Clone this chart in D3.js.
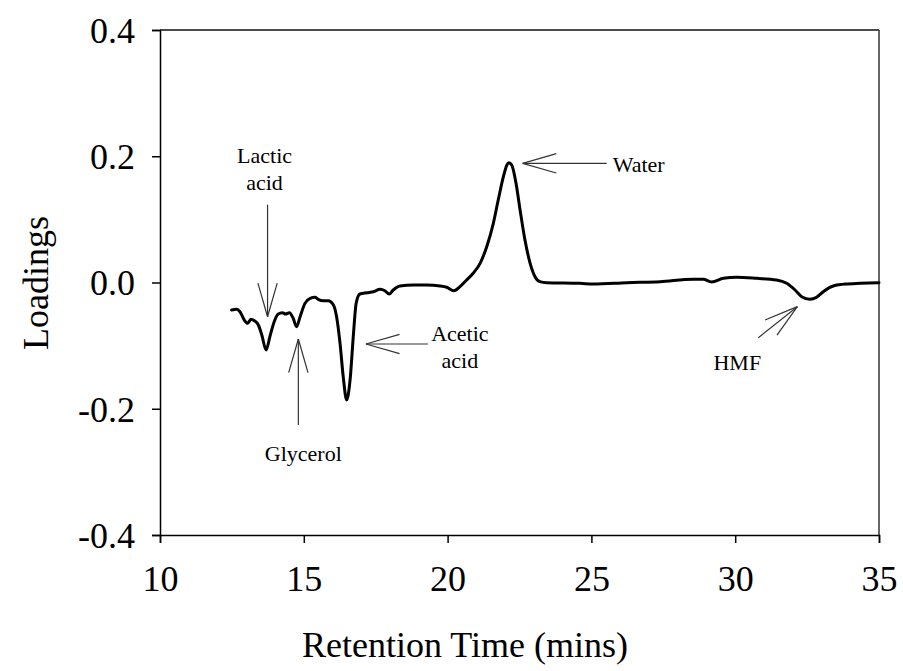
<!DOCTYPE html>
<html><head><meta charset="utf-8">
<script src="https://cdn.jsdelivr.net/npm/d3@7"></script>
<style>
body{margin:0;background:#fff}
svg{display:block}
text{font-family:"Liberation Serif","Times New Roman",serif;fill:#000}
</style>
</head><body><svg id="c" width="903" height="671"></svg>
<script>
// ---- data ----
const retention = [12.49,12.67,12.78,12.93,13.05,13.16,13.28,13.42,13.54,13.69,13.82,13.97,14.11,14.25,14.37,14.50,14.63,14.75,14.87,15.04,15.22,15.39,15.50,15.68,15.85,16.03,16.14,16.26,16.37,16.49,16.61,16.72,16.82,16.95,17.19,17.42,17.65,17.82,17.97,18.11,18.34,18.81,19.27,19.74,19.97,20.22,20.43,20.66,20.89,21.13,21.36,21.59,21.76,21.94,22.06,22.13,22.23,22.38,22.52,22.69,22.87,23.04,23.21,23.45,24.60,25.07,26.23,27.39,28.54,28.89,29.18,29.59,30.05,30.75,31.44,31.79,32.08,32.31,32.60,32.83,33.06,33.41,33.88,35.00];
const loadings = [-0.0436,-0.0425,-0.0463,-0.0594,-0.0646,-0.0583,-0.0605,-0.0673,-0.0832,-0.107,-0.0859,-0.0621,-0.0499,-0.0478,-0.0499,-0.0478,-0.0567,-0.070,-0.0542,-0.033,-0.025,-0.0234,-0.0266,-0.0288,-0.0288,-0.0356,-0.0542,-0.0963,-0.149,-0.186,-0.154,-0.0859,-0.033,-0.0182,-0.0162,-0.0146,-0.0108,-0.013,-0.0182,-0.0119,-0.0055,-0.004,-0.004,-0.0055,-0.0076,-0.013,-0.0066,0.004,0.0146,0.0304,0.0567,0.0938,0.1307,0.1676,0.186,0.1898,0.186,0.157,0.115,0.0673,0.0304,0.0092,0.0013,-0.0003,-0.0013,-0.0024,-0.0003,0.0013,0.005,0.005,0.0008,0.0066,0.0083,0.0066,0.004,-0.0013,-0.0119,-0.0225,-0.0266,-0.0234,-0.0146,-0.0055,-0.0024,-0.0003];
const xTicks = [10,15,20,25,30,35];
const yTicks = [-0.4,-0.2,0.0,0.2,0.4];
const yTickLabels = ["-0.4","-0.2","0.0","0.2","0.4"];
const peakNames = [["Lactic","acid"],["Glycerol"],["Acetic","acid"],["Water"],["HMF"]];
const peakTimes = [13.74,14.81,17.16,22.61,32.16];
const peakLoadings = [-0.0542,-0.0895,-0.0974,0.1888,-0.0383];

// ---- layout ----
const svg = d3.select("#c");
const L = 160, R = 879, T = 30, B = 535;
const x = d3.scaleLinear().domain([10,35]).range([L,R]);
const y = d3.scaleLinear().domain([-0.4,0.4]).range([B,T]);

// frame (top/right)
svg.append("line").attr("x1",L).attr("x2",R).attr("y1",T).attr("y2",T).attr("stroke","#111").attr("stroke-width",1.5);
svg.append("line").attr("x1",R).attr("x2",R).attr("y1",T).attr("y2",B).attr("stroke","#333").attr("stroke-width",1.5);

// axes
const xAxis = svg.append("g").attr("transform",`translate(0,${B})`)
  .call(d3.axisBottom(x).tickValues(xTicks).tickSize(8).tickPadding(22).tickFormat(d3.format("d")));
const yAxis = svg.append("g").attr("transform",`translate(${L},0)`)
  .call(d3.axisLeft(y).tickValues(yTicks).tickSize(8).tickPadding(17).tickFormat((d,i)=>yTickLabels[i]));
[xAxis,yAxis].forEach(g=>{
  g.select(".domain").attr("stroke","#000").attr("stroke-width",1.5);
  g.selectAll(".tick line").attr("stroke","#000").attr("stroke-width",1.5);
  g.selectAll("text").style("font-family","'Liberation Serif','Times New Roman',serif").style("font-size","36px").attr("fill","#000");
});
yAxis.selectAll("text").attr("dy","0.34em");
xAxis.selectAll("text").attr("dy","0.71em");

// titles
svg.append("text").attr("x",465).attr("y",657).attr("text-anchor","middle")
  .style("font-size","36px").text("Retention Time (mins)");
svg.append("text").attr("transform","translate(48,283) rotate(-90)").attr("text-anchor","middle")
  .style("font-size","36px").text("Loadings");

// curve
const pts = retention.map((t,i)=>[t,loadings[i]]);
svg.append("path").datum(pts)
  .attr("fill","none").attr("stroke","#000").attr("stroke-width",3).attr("stroke-linejoin","round").attr("stroke-linecap","round")
  .attr("d", d3.line().x(d=>x(d[0])).y(d=>y(d[1])).curve(d3.curveMonotoneX));

// annotations: tail offset and label offset in px relative to arrow tip
const annLayout = [
  {tail:[0,-112], label:[-3,-154], anchor:"middle"},
  {tail:[0,86],   label:[5,122],   anchor:"middle"},
  {tail:[62,0],   label:[94,-3],   anchor:"middle"},
  {tail:[84,0],   label:[90,9],    anchor:"start"},
  {tail:[-39,31], label:[-60,63],  anchor:"middle"}
];
const ann = svg.append("g");
peakNames.forEach((lines,i)=>{
  const tx = x(peakTimes[i]), ty = y(peakLoadings[i]);
  const lay = annLayout[i];
  const ex = tx+lay.tail[0], ey = ty+lay.tail[1];
  ann.append("line").attr("x1",tx).attr("y1",ty).attr("x2",ex).attr("y2",ey).attr("stroke","#333").attr("stroke-width",1.2);
  const ang = Math.atan2(ey-ty, ex-tx), hl = 35, ha = 16*Math.PI/180;
  [ang-ha, ang+ha].forEach(a=>{
    ann.append("line").attr("x1",tx).attr("y1",ty)
      .attr("x2",tx+hl*Math.cos(a)).attr("y2",ty+hl*Math.sin(a))
      .attr("stroke","#333").attr("stroke-width",1.2);
  });
  lines.forEach((s,j)=>{
    ann.append("text").attr("x",tx+lay.label[0]).attr("y",ty+lay.label[1]+j*27)
      .attr("text-anchor",lay.anchor).style("font-size","22px").text(s);
  });
});
</script>
</body></html>
